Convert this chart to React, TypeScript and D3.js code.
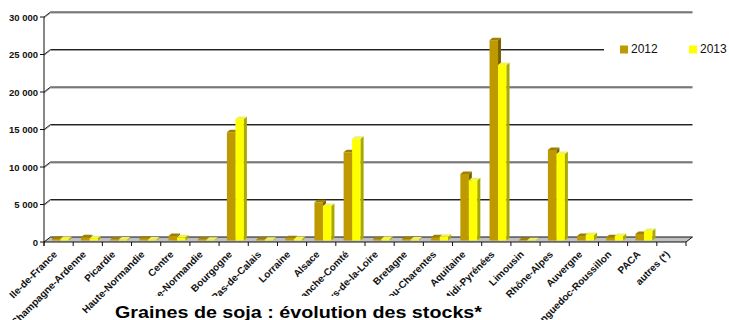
import React from "react";
import * as d3 from "d3";

const categories = [
  "Ile-de-France", "Champagne-Ardenne", "Picardie", "Haute-Normandie", "Centre",
  "Basse-Normandie", "Bourgogne", "Nord-Pas-de-Calais", "Lorraine", "Alsace",
  "Franche-Comté", "Pays-de-la-Loire", "Bretagne", "Poitou-Charentes", "Aquitaine",
  "Midi-Pyrénées", "Limousin", "Rhône-Alpes", "Auvergne", "Languedoc-Roussillon",
  "PACA", "autres (*)",
];
const seriesNames = ["2012", "2013"];
const values2012 = [200, 430, 130, 250, 600, 150, 14430, 100, 300, 5090, 11760, 150, 200, 430, 8870, 26700, 50, 12070, 600, 430, 870, 0];
const values2013 = [200, 300, 130, 150, 430, 100, 16200, 100, 200, 4600, 13570, 200, 150, 500, 8030, 23400, 50, 11530, 730, 600, 1270, 0];
const yTicks = [0, 5000, 10000, 15000, 20000, 25000, 30000];
const title = "Graines de soja  : évolution des stocks*";

const frontColors = ["#BF9900", "#FFFF00"];
const topColors = ["#A08000", "#F0F060"];
const sideColors = ["#7A6200", "#A8A800"];

const fmt = d3.formatLocale({ decimal: ",", thousands: " ", grouping: [3], currency: ["", ""] }).format(",");

export default function App() {
  const W = 729, H = 320;
  const x = d3.scaleBand<string>().domain(categories).range([44, 686]).padding(0);
  const sub = d3.scaleBand<string>().domain(seriesNames).range([5.8, 22.8]).padding(0);
  const y = d3.scaleLinear().domain([0, 30000]).range([242, 17]);
  const DX = 6.5, DY = -5;
  const bfx = 2, bfy = -1.5; // bar front offset in depth
  const bdx = 3, bdy = -2.5; // bar depth
  const series = [values2012, values2013];
  const bw = sub.bandwidth();

  const poly = (pts: number[][]) => pts.map((p) => p.join(",")).join(" ");

  return (
    <svg width={W} height={H} style={{ position: "absolute", left: 0, top: 0, background: "#fff" }} fontFamily="Liberation Sans, Arial, sans-serif">
      <rect x={0} y={0} width={W} height={H} fill="#fff" />
      {/* gridlines on back wall */}
      {yTicks.slice(1).map((t) => {
        const yy = y(t);
        return (
          <g key={"g" + t}>
            <polyline points={poly([[44, yy + 1], [44 + DX, yy + DY + 1], [686 + DX, yy + DY + 1]])} fill="none" stroke="#999" strokeWidth={1} />
            <polyline points={poly([[44, yy], [44 + DX, yy + DY], [686 + DX, yy + DY]])} fill="none" stroke="#222" strokeWidth={1} />
          </g>
        );
      })}
      {/* floor */}
      <polygon points={poly([[44, y(0)], [686, y(0)], [686 + DX, y(0) + DY], [44 + DX, y(0) + DY]])} fill="#C0C0C0" stroke="#111" strokeWidth={1} />
      {/* axis */}
      <line x1={44} x2={44} y1={y(30000)} y2={246} stroke="#111" strokeWidth={1} />
      {yTicks.map((t) => (
        <g key={"t" + t}>
          <line x1={40} x2={44} y1={y(t)} y2={y(t)} stroke="#111" />
          <text x={38} y={y(t) + 3.5} textAnchor="end" fontSize={9.5} fontWeight="bold" fill="#111">{fmt(t)}</text>
        </g>
      ))}
      {categories.map((c) => (
        <line key={"xt" + c} x1={x(c)!} x2={x(c)!} y1={242} y2={246} stroke="#111" />
      ))}
      <line x1={686} x2={686} y1={242} y2={246} stroke="#111" />
      {/* bars */}
      {categories.map((c, i) => (
        <g key={"b" + c}>
          {series.map((vals, s) => {
            const v = vals[i];
            if (v <= 0) return null;
            const x0 = x(c)! + sub(seriesNames[s])! + bfx;
            const yt = y(v) + bfy;
            const yb = y(0) + bfy;
            return (
              <g key={s}>
                <rect x={x0} y={yt} width={bw} height={Math.max(0, yb - yt)} fill={frontColors[s]} />
                <polygon points={poly([[x0 + bw, yt], [x0 + bw + bdx, yt + bdy], [x0 + bw + bdx, yb + bdy], [x0 + bw, yb]])} fill={sideColors[s]} />
                <polygon points={poly([[x0, yt], [x0 + bw, yt], [x0 + bw + bdx, yt + bdy], [x0 + bdx, yt + bdy]])} fill={topColors[s]} />
              </g>
            );
          })}
        </g>
      ))}
      {/* category labels */}
      {categories.map((c) => {
        const cx = x(c)! + x.bandwidth() / 2 - 1;
        const cy = 255;
        return (
          <text key={"l" + c} x={cx} y={cy} transform={`rotate(-45 ${cx} ${cy})`} textAnchor="end" fontSize={10} fontWeight="bold" fill="#111">{c}</text>
        );
      })}
      {/* legend */}
      <rect x={604} y={38} width={125} height={24} fill="#fff" />
      {seriesNames.map((s, i) => (
        <g key={"lg" + s}>
          <rect x={620 + i * 69} y={45.5} width={8} height={8} fill={frontColors[i]} />
          <text x={631 + i * 69} y={53.3} fontSize={12} fill="#111">{s}</text>
        </g>
      ))}
      {/* title */}
      <rect x={108} y={296} width={380} height={24} fill="#fff" />
      <text x={115} y={318} fontSize={17} fontWeight="bold" fill="#000" textLength={367} lengthAdjust="spacingAndGlyphs">{title}</text>
    </svg>
  );
}
